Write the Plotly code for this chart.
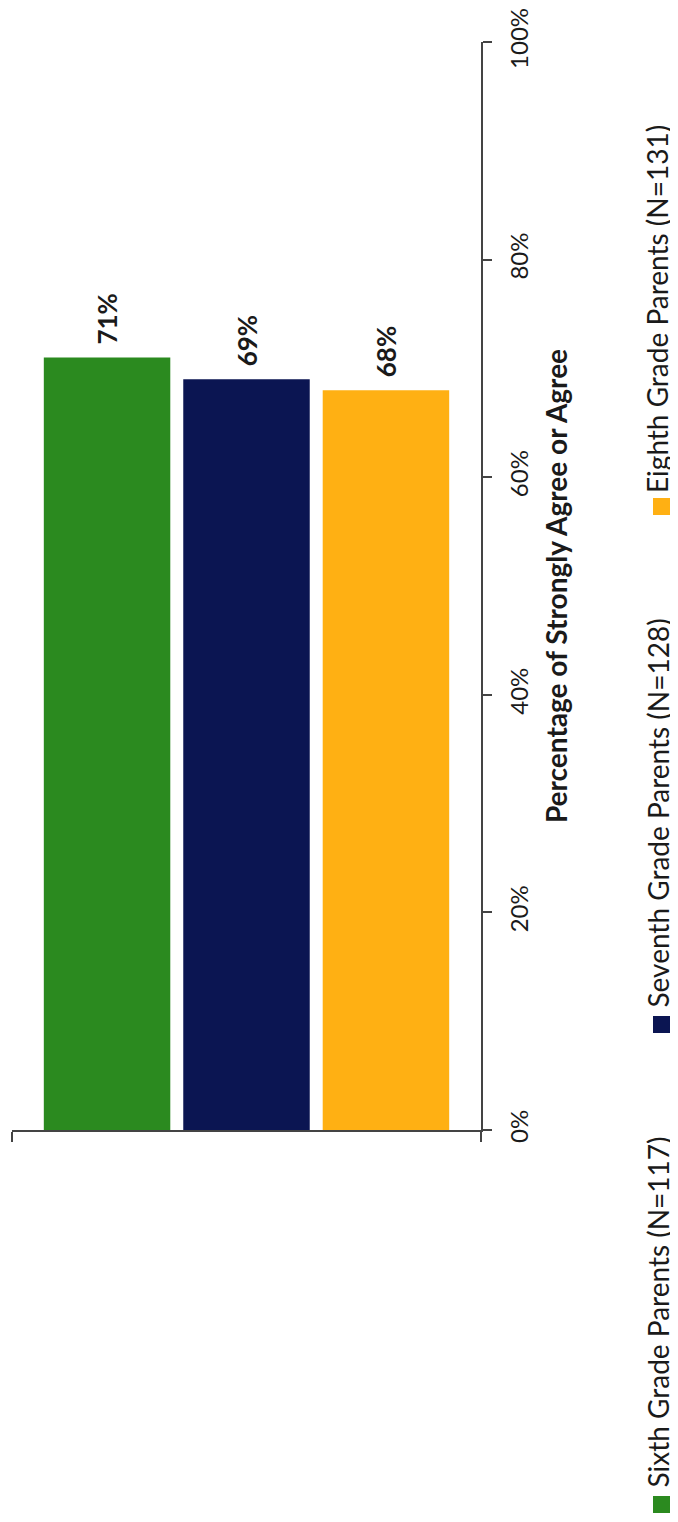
import plotly.graph_objects as go

# ---- data ----
categories = ["Parents"]
series_names = ["Sixth Grade Parents (N=117)",
                "Seventh Grade Parents (N=128)",
                "Eighth Grade Parents (N=131)"]
series_values = [71, 69, 68]
series_colors = ["#2b8a1f", "#0b1552", "#ffb013"]
tick_values = [0, 20, 40, 60, 80, 100]
tick_labels = ["0%", "20%", "40%", "60%", "80%", "100%"]
axis_title = "Percentage of Strongly Agree or Agree"

# the page body has an 8px margin: the figure starts at (8, 8)
OFF = 8
W, H = 678 - OFF, 1522 - OFF
PLOT_L, PLOT_R, PLOT_T, PLOT_B = 12, 481, 42, 1130   # page pixels
L = PLOT_L - OFF
T = PLOT_T - OFF
R = W - (PLOT_R - OFF)
B = H - (PLOT_B - OFF)
PW = PLOT_R - PLOT_L
PH = PLOT_B - PLOT_T
FONT = "Lato"
TXT = "#1a1a1a"


def px_x(px):
    return (px - PLOT_L) / PW


def px_y(py):
    return (PLOT_B - py) / PH


fig = go.Figure()
for name, val, col in zip(series_names, series_values, series_colors):
    fig.add_trace(go.Bar(
        x=categories, y=[val], name=name,
        marker=dict(color=col, line=dict(width=0)),
        text=[val],
        texttemplate="\u00a0\u2009<b>%{y:.0f}%</b>",
        textposition="outside", textangle=-90,
        constraintext="none", cliponaxis=False,
        textfont=dict(family=FONT, size=26, color=TXT),
        showlegend=False,
    ))

# legend drawn as rotated text with coloured squares
legend_text_bottom = [1490, 1010, 495]
legend_square_top = [1496, 1016, 498]
annotations = []
shapes = []
for name, col, tb, st in zip(series_names, series_colors, legend_text_bottom, legend_square_top):
    annotations.append(dict(
        text=name, textangle=-90, showarrow=False,
        xref="paper", yref="paper", x=px_x(657), y=px_y(tb),
        xanchor="center", yanchor="bottom",
        font=dict(family=FONT, size=28, color=TXT),
    ))
    shapes.append(dict(
        type="rect", xref="paper", yref="paper",
        x0=px_x(653), x1=px_x(670), y0=px_y(st + 17), y1=px_y(st),
        fillcolor=col, line=dict(width=0),
    ))

fig.update_layout(
    template="none",
    width=W, height=H,
    margin=dict(l=L, r=R, t=T, b=B, autoexpand=False),
    paper_bgcolor="white", plot_bgcolor="white",
    barmode="group", bargap=0.108, bargroupgap=0.093,
    font=dict(family=FONT, color=TXT),
    annotations=annotations, shapes=shapes,
    xaxis=dict(
        type="category", showline=True, linecolor="#444", linewidth=1.5,
        ticks="outside", tickson="boundaries", ticklen=10, tickcolor="#444",
        tickwidth=1.5, showticklabels=False, showgrid=False, zeroline=False,
        automargin=False,
    ),
    yaxis=dict(
        side="right", range=[0, 100], tickvals=tick_values, ticktext=tick_labels,
        showline=True, linecolor="#444", linewidth=1.5,
        ticks="outside", ticklen=9, tickcolor="#444", tickwidth=1.5,
        tickangle=-90, ticklabelstandoff=7, ticklabeloverflow="allow",
        tickfont=dict(family=FONT, size=24, color=TXT),
        showgrid=False, zeroline=False, automargin=False,
        title=dict(text="<b>" + axis_title + "</b>", standoff=16,
                   font=dict(family=FONT, size=28, color=TXT)),
    ),
)

fig.write_html("out.html")
